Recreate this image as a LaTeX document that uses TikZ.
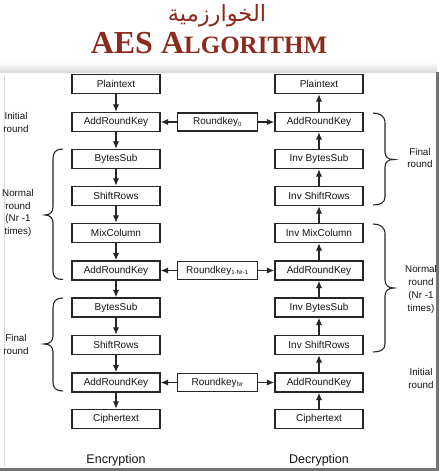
\documentclass[tikz,border=0pt]{standalone}
\usepackage{fontspec}
\setmainfont{Liberation Sans}
\newfontfamily\titlefont{Liberation Serif}
\newfontfamily\arabicfont[Script=Arabic]{DejaVu Sans}
\TeXXeTstate=1
\usetikzlibrary{arrows.meta}
\definecolor{boxc}{HTML}{262626}
\definecolor{txtc}{HTML}{141414}
\definecolor{titlec}{HTML}{8B2B1E}
\begin{document}
\begin{tikzpicture}[x=1pt,y=-1pt,
 box/.style={draw=boxc, line width=1.4pt, minimum width=88pt, minimum height=19pt, inner sep=0pt, font=\fontsize{10}{11}\selectfont, text=txtc},
 kbox/.style={box, minimum width=80pt, minimum height=18pt},
 arr/.style={line width=1.3pt, draw=boxc, -{Latex[length=7.5pt,width=6.5pt]}},
 brc/.style={line width=1.1pt, draw=boxc},
 side/.style={align=center, font=\fontsize{9.8}{12.8}\selectfont, text=txtc, inner sep=0pt},
 captxt/.style={font=\fontsize{12.5}{14}\selectfont, text=txtc, inner sep=0pt},
]
\useasboundingbox (0,0) rectangle (439,471);
\fill[white] (0,0) rectangle (439,471);
% panel shadow and border
\shade[top color=white, bottom color=black!16] (0,62) rectangle (437,73);
\fill[white] (0,73) rectangle (437,468);
\draw[black!15, line width=0.8pt] (4,76) -- (4,466);
\fill[black!55] (435.5,72) rectangle (438.5,471);
\fill[black!55] (0,467.5) rectangle (439,471);

% title
\node[inner sep=0pt, text=titlec] (arab) at (217,16) {\arabicfont\fontsize{22.5}{25}\selectfont\beginR الخوارزمية\endR};
\node[inner sep=0pt, text=titlec, anchor=base] (title) at (209,53) {\titlefont\bfseries\fontsize{32}{34}\selectfont AES A\fontsize{25}{27}\selectfont LGORITHM};

% encryption column
\node[box] (ePT) at (116,84) {Plaintext};
\node[box] (eA1) at (116,122) {AddRoundKey};
\node[box] (eBS1) at (116,159) {BytesSub};
\node[box] (eSR1) at (116,196) {ShiftRows};
\node[box] (eMC) at (116,233) {MixColumn};
\node[box] (eA2) at (116,270.5) {AddRoundKey};
\node[box] (eBS2) at (116,307.5) {BytesSub};
\node[box] (eSR2) at (116,345) {ShiftRows};
\node[box] (eA3) at (116,382.5) {AddRoundKey};
\node[box] (eCT) at (116,419) {Ciphertext};

% decryption column
\node[box] (dPT) at (319,84) {Plaintext};
\node[box] (dA1) at (319,122) {AddRoundKey};
\node[box] (dBS1) at (319,159) {Inv BytesSub};
\node[box] (dSR1) at (319,196) {Inv ShiftRows};
\node[box] (dMC) at (319,233) {Inv MixColumn};
\node[box] (dA2) at (319,270.5) {AddRoundKey};
\node[box] (dBS2) at (319,307.5) {Inv BytesSub};
\node[box] (dSR2) at (319,345) {Inv ShiftRows};
\node[box] (dA3) at (319,382.5) {AddRoundKey};
\node[box] (dCT) at (319,419) {Ciphertext};

% round keys
\node[kbox] (rk0) at (217.5,122) {Roundkey\textsubscript{\fontsize{6}{7}\selectfont 0}};
\node[kbox] (rk1) at (217.5,270.5) {Roundkey\textsubscript{\fontsize{6}{7}\selectfont 1-Nr-1}};
\node[kbox] (rk2) at (217.5,382.5) {Roundkey\textsubscript{\fontsize{6}{7}\selectfont Nr}};

% encryption arrows
\draw[arr] (ePT) -- (eA1);
\draw[arr] (eA1) -- (eBS1);
\draw[arr] (eBS1) -- (eSR1);
\draw[arr] (eSR1) -- (eMC);
\draw[arr] (eMC) -- (eA2);
\draw[arr] (eA2) -- (eBS2);
\draw[arr] (eBS2) -- (eSR2);
\draw[arr] (eSR2) -- (eA3);
\draw[arr] (eA3) -- (eCT);

% decryption arrows
\draw[arr] (dCT) -- (dA3);
\draw[arr] (dA3) -- (dSR2);
\draw[arr] (dSR2) -- (dBS2);
\draw[arr] (dBS2) -- (dA2);
\draw[arr] (dA2) -- (dMC);
\draw[arr] (dMC) -- (dSR1);
\draw[arr] (dSR1) -- (dBS1);
\draw[arr] (dBS1) -- (dA1);
\draw[arr] (dA1) -- (dPT);

% key arrows
\draw[arr] (rk0) -- (eA1);
\draw[arr] (rk0) -- (dA1);
\draw[arr] (rk1) -- (eA2);
\draw[arr] (rk1) -- (dA2);
\draw[arr] (rk2) -- (eA3);
\draw[arr] (rk2) -- (dA3);

% left braces
\draw[brc] (63,149) .. controls (56,149) and (53,152) .. (53,159) -- (53,207) .. controls (53,212) and (50,215) .. (45,215) .. controls (50,215) and (53,218) .. (53,223) -- (53,271) .. controls (53,277) and (56,279.5) .. (63,279.5);
\draw[brc] (63,298) .. controls (56,298) and (53,301) .. (53,308) -- (53,336) .. controls (53,341) and (50,344) .. (44,344) .. controls (50,344) and (53,347) .. (53,352) -- (53,382) .. controls (53,388) and (56,391) .. (63,391);

% right braces
\draw[brc] (373,113) .. controls (380,113) and (385,116) .. (385,123) -- (385,152) .. controls (385,157) and (388,159.5) .. (394,159.5) .. controls (388,159.5) and (385,162) .. (385,167) -- (385,197) .. controls (385,203) and (380,205) .. (373,205);
\draw[brc] (373,224) .. controls (380,224) and (385,227) .. (385,234) -- (385,280) .. controls (385,285) and (388,288) .. (394,288) .. controls (388,288) and (385,291) .. (385,296) -- (385,344) .. controls (385,350) and (380,352) .. (373,352);

% side labels
\node[side] (lInit) at (16,122.5) {Initial\\round};
\node[side] (lNorm) at (18,213) {Normal\\round\\(Nr -1\\times)};
\node[side] (lFin) at (16,344.5) {Final\\round};
\node[side] (rFin) at (420,158) {Final\\round};
\node[side] (rNorm) at (421,289.5) {Normal\\round\\(Nr -1\\times)};
\node[side] (rInit) at (421,378.5) {Initial\\round};

% captions
\node[captxt] (enc) at (116,460) {Encryption};
\node[captxt] (dec) at (319,460) {Decryption};
\end{tikzpicture}
\end{document}
